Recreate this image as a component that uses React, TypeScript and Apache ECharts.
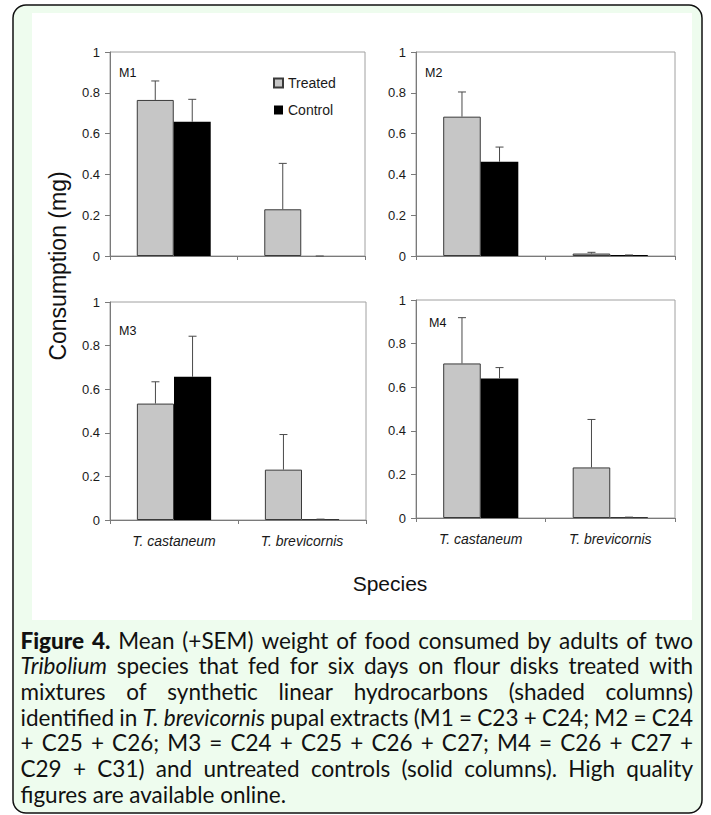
import React, { useEffect, useRef } from "react";
import * as echarts from "echarts";

const categories = ["T. castaneum", "T. brevicornis"];
const panelNames = ["M1", "M2", "M3", "M4"];
const treatedMean = [
  [0.765, 0.229],
  [0.683, 0.012],
  [0.534, 0.231],
  [0.709, 0.232],
];
const treatedSEM = [
  [0.093, 0.225],
  [0.121, 0.006],
  [0.1, 0.161],
  [0.21, 0.22],
];
const controlMean = [
  [0.658, 0],
  [0.462, 0.005],
  [0.657, 0.004],
  [0.64, 0.004],
];
const controlSEM = [
  [0.11, 0],
  [0.072, 0],
  [0.186, 0],
  [0.05, 0],
];
const yTicks = { min: 0, max: 1, interval: 0.2 };
const seriesNames = ["Treated", "Control"];
const yAxisTitle = "Consumption (mg)";
const xAxisTitle = "Species";
const captionLines = [
  "**Figure 4.** Mean (+SEM) weight of food consumed by adults of two",
  "*Tribolium* species that fed for six days on flour disks treated with",
  "mixtures of synthetic linear hydrocarbons (shaded columns)",
  "identified in *T. brevicornis* pupal extracts (M1 = C23 + C24; M2 = C24",
  "+ C25 + C26; M3 = C24 + C25 + C26 + C27; M4 = C26 + C27 +",
  "C29 + C31) and untreated controls (solid columns). High quality",
  "figures are available online.",
];

const AR = "'Liberation Sans', Arial, Helvetica, sans-serif";
const CAP_FONT = "Lato, 'Open Sans', sans-serif";
const CAP_SIZE = 22.5;
const BAR_W = 0.29;

const gridBoxes = [
  { left: 110, top: 52, width: 255, height: 204 },
  { left: 416, top: 52, width: 259, height: 204 },
  { left: 110, top: 302, width: 256, height: 218 },
  { left: 416, top: 300, width: 259, height: 218 },
];
const panelLabelPos = [
  [119, 73],
  [425, 73],
  [119, 331],
  [429, 323],
];

function parseLine(line: string) {
  const words = line.split(" ");
  let bold = false;
  let italic = false;
  const out: { text: string; bold: boolean; italic: boolean }[] = [];
  for (let w of words) {
    let b = bold;
    let it = italic;
    if (w.startsWith("**")) {
      bold = true;
      b = true;
      w = w.slice(2);
    } else if (w.startsWith("*")) {
      italic = true;
      it = true;
      w = w.slice(1);
    }
    if (w.endsWith("**")) {
      w = w.slice(0, -2);
      bold = false;
    } else if (w.endsWith("*")) {
      w = w.slice(0, -1);
      italic = false;
    }
    out.push({ text: w, bold: b, italic: it });
  }
  return out;
}

function buildCaption() {
  const canvas = document.createElement("canvas");
  const ctx = canvas.getContext("2d")!;
  const left = 20.5;
  const right = 693;
  const width = right - left;
  const y0 = 640;
  const step = 25.7;
  const elements: any[] = [];
  const fontOf = (w: { bold: boolean; italic: boolean }) =>
    `${w.italic ? "italic " : ""}${w.bold ? "900 " : ""}${CAP_SIZE}px ${CAP_FONT}`;
  captionLines.forEach((line, li) => {
    const words = parseLine(line);
    const widths = words.map((w) => {
      ctx.font = fontOf(w);
      return ctx.measureText(w.text).width;
    });
    const total = widths.reduce((a, b) => a + b, 0);
    const last = li === captionLines.length - 1;
    ctx.font = `${CAP_SIZE}px ${CAP_FONT}`;
    const spaceW = ctx.measureText(" ").width;
    const gap = last || words.length < 2 ? spaceW : (width - total) / (words.length - 1);
    let x = left;
    words.forEach((w, wi) => {
      elements.push({
        type: "text",
        x,
        y: y0 + li * step,
        z: 10,
        style: {
          text: w.text,
          fontSize: CAP_SIZE,
          fontFamily: CAP_FONT,
          fontWeight: w.bold ? 900 : "normal",
          fontStyle: w.italic ? "italic" : "normal",
          fill: "#111",
          align: "left",
          textAlign: "left",
          verticalAlign: "middle",
          textVerticalAlign: "middle",
        },
      });
      x += widths[wi] + gap;
    });
  });
  return elements;
}

export default function App() {
  const ref = useRef<HTMLDivElement>(null);
  useEffect(() => {
    if (!ref.current) return;
    const chart = echarts.init(ref.current, null, { renderer: "svg" });

    const series: any[] = [];
    gridBoxes.forEach((_, i) => {
      series.push({
        name: seriesNames[0],
        type: "bar",
        xAxisIndex: i,
        yAxisIndex: i,
        data: treatedMean[i],
        barWidth: BAR_W * 100 + "%",
        barGap: "0%",
        itemStyle: { color: "#c6c6c6", borderColor: "#3a3a3a", borderWidth: 1 },
        z: 2,
      });
      series.push({
        name: seriesNames[1],
        type: "bar",
        xAxisIndex: i,
        yAxisIndex: i,
        data: controlMean[i],
        barWidth: BAR_W * 100 + "%",
        barGap: "0%",
        itemStyle: { color: "#000000" },
        z: 2,
      });
      const errData: number[][] = [];
      categories.forEach((_, c) => {
        errData.push([c, treatedMean[i][c], treatedSEM[i][c], 0]);
        errData.push([c, controlMean[i][c], controlSEM[i][c], 1]);
      });
      series.push({
        type: "custom",
        xAxisIndex: i,
        yAxisIndex: i,
        data: errData,
        encode: { x: 0, y: 1 },
        z: 3,
        silent: true,
        renderItem: (params: any, api: any) => {
          const c = api.value(0);
          const mean = api.value(1);
          const sem = api.value(2);
          const which = api.value(3);
          const base = api.coord([c, mean]);
          const top = api.coord([c, mean + sem]);
          const band = api.size([1, 0])[0];
          const bw = band * BAR_W;
          const cx = base[0] + (which === 0 ? -bw / 2 : bw / 2);
          const st = { stroke: "#4a4a4a", lineWidth: 1 };
          return {
            type: "group",
            children: [
              { type: "line", shape: { x1: cx, y1: base[1], x2: cx, y2: top[1] }, style: st },
              { type: "line", shape: { x1: cx - 4, y1: top[1], x2: cx + 4, y2: top[1] }, style: st },
            ],
          };
        },
      });
    });

    const graphics: any[] = [
      {
        type: "rect",
        z: -10,
        shape: { x: 13, y: 5, width: 689, height: 808, r: 13 },
        style: { fill: "#eefcee", stroke: "#111", lineWidth: 1.5 },
      },
      {
        type: "rect",
        z: -9,
        shape: { x: 32, y: 13, width: 660, height: 607 },
        style: { fill: "#ffffff" },
      },
      {
        type: "text",
        x: 58,
        y: 266,
        rotation: Math.PI / 2,
        style: {
          text: yAxisTitle,
          fontSize: 23,
          fontFamily: AR,
          fill: "#111",
          align: "center",
          textAlign: "center",
          verticalAlign: "middle",
          textVerticalAlign: "middle",
        },
      },
      {
        type: "text",
        x: 390,
        y: 583,
        style: {
          text: xAxisTitle,
          fontSize: 21,
          fontFamily: AR,
          fill: "#111",
          align: "center",
          textAlign: "center",
          verticalAlign: "middle",
          textVerticalAlign: "middle",
        },
      },
      ...panelNames.map((n, i) => ({
        type: "text",
        x: panelLabelPos[i][0],
        y: panelLabelPos[i][1],
        style: {
          text: n,
          fontSize: 12.5,
          fontFamily: AR,
          fill: "#111",
          align: "left",
          textAlign: "left",
          verticalAlign: "middle",
          textVerticalAlign: "middle",
        },
      })),
      ...buildCaption(),
    ];

    const option: any = {
      animation: false,
      textStyle: { fontFamily: AR },
      grid: gridBoxes.map((g) => ({
        ...g,
        show: true,
        borderColor: "#a0a0a0",
        borderWidth: 1,
        backgroundColor: "transparent",
      })),
      xAxis: gridBoxes.map((_, i) => ({
        type: "category",
        gridIndex: i,
        data: categories,
        axisLine: { show: true, lineStyle: { color: "#7a7a7a", width: 1 } },
        axisTick: { show: true, length: 4, lineStyle: { color: "#7a7a7a" } },
        axisLabel: {
          show: i >= 2,
          fontStyle: "italic",
          fontSize: 14,
          color: "#1a1a1a",
          margin: 14,
          fontFamily: AR,
        },
        splitLine: { show: false },
      })),
      yAxis: gridBoxes.map((_, i) => ({
        type: "value",
        gridIndex: i,
        min: yTicks.min,
        max: yTicks.max,
        interval: yTicks.interval,
        axisLine: { show: true, lineStyle: { color: "#7a7a7a", width: 1 } },
        axisTick: { show: true, length: 5, lineStyle: { color: "#7a7a7a" } },
        axisLabel: { fontSize: 13, color: "#1a1a1a", margin: 10, fontFamily: AR },
        splitLine: { show: false },
      })),
      legend: {
        data: seriesNames,
        orient: "vertical",
        left: 273,
        top: 76,
        padding: 0,
        itemWidth: 9,
        itemHeight: 9,
        itemGap: 13,
        icon: "rect",
        textStyle: { fontSize: 14, color: "#1a1a1a", fontFamily: AR },
      },
      graphic: { elements: graphics },
      series,
    };
    chart.setOption(option);
    return () => chart.dispose();
  }, []);
  return (
    <div
      ref={ref}
      style={{ position: "absolute", left: 0, top: 0, width: 711, height: 815 }}
    />
  );
}
